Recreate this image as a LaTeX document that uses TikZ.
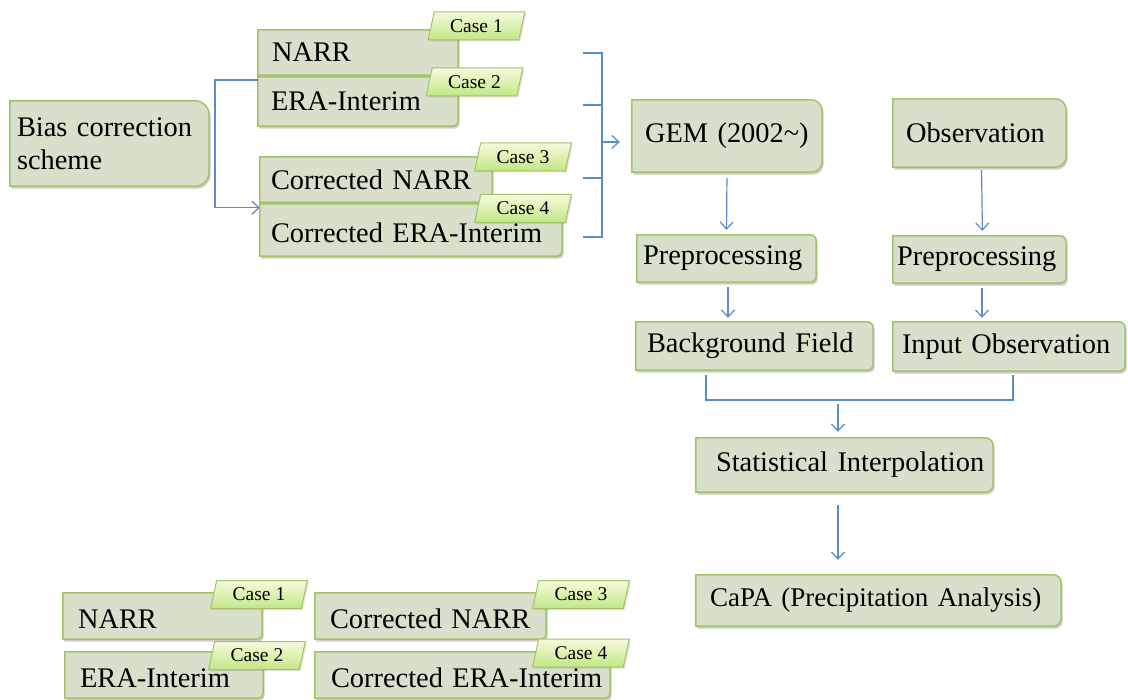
\documentclass[tikz,border=0pt]{standalone}
\usepackage{fontspec}
\setmainfont{Liberation Serif}
\usetikzlibrary{arrows.meta,shapes.geometric,shadows,backgrounds}
\definecolor{boxfill}{HTML}{D8DFCA}
\definecolor{boxedge}{HTML}{A2C367}
\definecolor{tagtop}{HTML}{F4FBDC}
\definecolor{tagbot}{HTML}{C3E785}
\definecolor{conncol}{HTML}{5B8BC9}
\tikzset{
  boxtext/.style={inner ysep=0pt, align=left, font=\fontsize{28.4}{33}\selectfont},
  lower/.style={text height=25pt, text depth=0pt},
  boxline/.style={draw=boxedge, line width=1.5pt, fill=boxfill},
  conn/.style={draw=conncol, line width=1.2pt},
  arr/.style={conn, -{Straight Barb[length=7pt,width=13pt,line width=1.2pt]}},
  tag/.style={trapezium, trapezium left angle=74, trapezium right angle=106,
    trapezium stretches=true, minimum width=97pt, minimum height=28pt, inner sep=0pt,
    draw=boxedge, line width=1pt, top color=tagtop, bottom color=tagbot,
    font=\fontsize{19.5}{21}\selectfont,
    drop shadow={opacity=0.22, shadow xshift=1.5pt, shadow yshift=-1.5pt}}
}
% [options] name, cx, cy, w, h, xsep, textwidth, text
\newcommand\mkbox[9][]{\node[boxtext, minimum width=#5pt, minimum height=#6pt,
  inner xsep=#7pt, text width=#8pt, #1] (#2) at (#3,#4) {#9};}
% [radius] name
\newcommand\drawbox[2][6pt]{%
  \fill[black, opacity=0.2, transform canvas={xshift=1.5pt,yshift=-2.5pt}]
    (#2.north west) -- ([xshift=-#1]#2.north east)
    .. controls ([xshift=-0.448*#1]#2.north east) and ([yshift=-0.448*#1]#2.north east) .. ([yshift=-#1]#2.north east)
    -- ([yshift=#1]#2.south east)
    .. controls ([yshift=0.448*#1]#2.south east) and ([xshift=-0.448*#1]#2.south east) .. ([xshift=-#1]#2.south east)
    -- (#2.south west) -- cycle;
  \draw[boxline]
    (#2.north west) -- ([xshift=-#1]#2.north east)
    .. controls ([xshift=-0.448*#1]#2.north east) and ([yshift=-0.448*#1]#2.north east) .. ([yshift=-#1]#2.north east)
    -- ([yshift=#1]#2.south east)
    .. controls ([yshift=0.448*#1]#2.south east) and ([xshift=-0.448*#1]#2.south east) .. ([xshift=-#1]#2.south east)
    -- (#2.south west) -- cycle;}
\begin{document}
\begin{tikzpicture}[x=1pt,y=-1pt]
\useasboundingbox (0,0) rectangle (1128,700);
% boxes (text)
\mkbox{bias}{109.5}{143.5}{199}{85}{7}{185}{Bias correction\\scheme}
\mkbox{narr}{358}{52.5}{200}{45}{14}{172}{\mbox{NARR}}
\mkbox{era}{358}{101.5}{200}{49}{13}{174}{\mbox{ERA-Interim}}
\mkbox{cnarr}{376}{179.5}{232}{45}{11}{210}{\mbox{Corrected NARR}}
\mkbox[lower]{cera}{411}{230}{302}{52}{11}{280}{\mbox{Corrected ERA-Interim}}
\mkbox{gem}{727}{136}{190}{72}{13}{164}{\mbox{GEM (2002\textasciitilde)}}
\mkbox{obs}{979.5}{133}{173}{68}{13}{147}{\mbox{Observation}}
\mkbox{pre1}{726.5}{258.5}{179}{47}{6}{167}{\mbox{Preprocessing}}
\mkbox{pre2}{979.5}{259.5}{173}{47}{4}{165}{\mbox{Preprocessing}}
\mkbox{bg}{754.5}{346}{237}{48}{11}{215}{\mbox{Background Field}}
\mkbox{inobs}{1009}{346.5}{232}{49}{9}{214}{\mbox{Input Observation}}
\mkbox{stat}{844.5}{465}{297}{54}{20}{257}{\mbox{Statistical Interpolation}}
\mkbox{capa}{878.5}{600.5}{365}{51}{14}{337}{\mbox{\fontsize{27}{33}\selectfont CaPA (Precipitation Analysis)}}
\mkbox[lower]{lnarr}{162.5}{616}{199}{46}{15}{169}{\mbox{NARR}}
\mkbox[lower]{lera}{164}{675}{198}{46}{15}{168}{\mbox{ERA-Interim}}
\mkbox[lower]{lcnarr}{430.5}{616}{231}{46}{15}{201}{\mbox{Corrected NARR}}
\mkbox[lower]{lcera}{462.5}{675}{295}{46}{16}{263}{\mbox{Corrected ERA-Interim}}
\begin{scope}[on background layer]
  \drawbox[14pt]{bias}
  \drawbox[5pt]{narr}
  \drawbox[5pt]{era}
  \drawbox[5pt]{cnarr}
  \drawbox[5pt]{cera}
  \drawbox[11pt]{gem}
  \drawbox[11pt]{obs}
  \drawbox{pre1}
  \drawbox{pre2}
  \drawbox{bg}
  \drawbox{inobs}
  \drawbox[8pt]{stat}
  \drawbox[8pt]{capa}
  \drawbox[5pt]{lnarr}
  \drawbox[5pt]{lera}
  \drawbox[5pt]{lcnarr}
  \drawbox[5pt]{lcera}
\end{scope}
% case tags
\node[tag] (t1) at (476.5,26) {Case 1};
\node[tag] (t2) at (474.5,82) {Case 2};
\node[tag] (t3) at (523,157) {Case 3};
\node[tag] (t4) at (523,208.5) {Case 4};
\node[tag] (lt1) at (259,594.5) {Case 1};
\node[tag] (lt2) at (257,655.5) {Case 2};
\node[tag] (lt3) at (581,594.5) {Case 3};
\node[tag] (lt4) at (581,653) {Case 4};
% bias correction connector
\coordinate (bj) at (215,80);
\draw[arr] (bj -| era.west) -- (bj) |- ([yshift=-4pt]cera.north west);
% bracket
\coordinate (k1) at (583,53);  \coordinate (b1) at (602,53);
\coordinate (k2) at (583,105); \coordinate (b2) at (602,105);
\coordinate (k3) at (583,178); \coordinate (b3) at (602,178);
\coordinate (k4) at (583,237); \coordinate (b4) at (602,237);
\coordinate (bm) at (602,142);
\draw[conn] (k1) -- (b1) -- (b4) -- (k4);
\draw[conn] (k2) -- (b2);
\draw[conn] (k3) -- (b3);
\draw[arr, shorten >=12pt] (bm) -- (bm -| gem.west);
% vertical flows
\draw[arr, shorten <=6pt, shorten >=5pt] (gem.south) -- (pre1.north);
\draw[arr, shorten <=3pt, shorten >=5pt] ([xshift=2pt]obs.south) -- ([xshift=3pt]pre2.north);
\draw[arr, shorten <=5pt, shorten >=4pt] ([xshift=1.5pt]pre1.south) -- ([xshift=1.5pt]pre1.south |- bg.north);
\draw[arr, shorten <=5pt, shorten >=4pt] ([xshift=2.5pt]pre2.south) -- ([xshift=2.5pt]pre2.south |- inobs.north);
% merge
\coordinate (m1) at (706,375);
\coordinate (m2) at (1013,375);
\coordinate (mj) at (838,404);
\draw[conn] (m1) -- ++(0,25) -| (m2);
\draw[arr, shorten >=6pt] (mj) -- (mj |- stat.north);
\draw[arr, shorten <=13pt, shorten >=15pt] (mj |- stat.south) -- (mj |- capa.north);
\end{tikzpicture}
\end{document}
